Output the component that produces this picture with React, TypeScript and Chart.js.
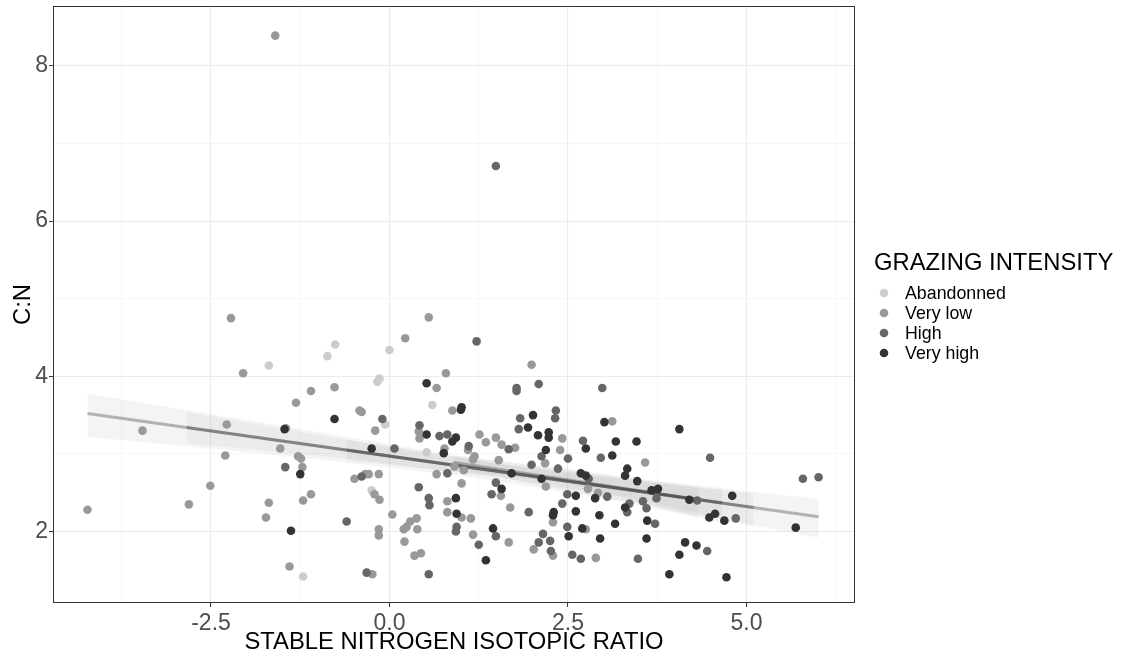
import React, { useEffect, useRef } from "react";
import { Chart, registerables } from "chart.js";

Chart.register(...registerables);

const FONT = "'Liberation Sans', Arial, Helvetica, sans-serif";

// ---------- data ----------
const groupNames = ["Abandonned", "Very low", "High", "Very high"];
const groupColors = ["#cccccc", "#999999", "#666666", "#333333"];
const legendTitle = "GRAZING INTENSITY";
const xAxisTitle = "STABLE NITROGEN ISOTOPIC RATIO";
const yAxisTitle = "C:N";

const abandonned: [number, number][] = [
  [-1.69, 4.14], [-1.21, 1.42], [-0.76, 4.41], [-0.87, 4.26], [0.0, 4.34], [-0.17, 3.93],
  [-0.14, 3.97], [0.6, 3.63], [-0.06, 3.38], [0.52, 3.02], [-0.25, 2.53],
];

const veryLow: [number, number][] = [
  [-1.6, 8.39], [-2.22, 4.75], [-2.05, 4.04], [-1.1, 3.81], [-1.31, 3.66], [-3.46, 3.3],
  [-2.28, 3.38], [-1.45, 3.33], [-1.53, 3.07], [-2.3, 2.98], [-1.28, 2.97], [-1.22, 2.83],
  [-1.1, 2.48], [-2.51, 2.59], [-1.69, 2.37], [-1.21, 2.4], [-2.81, 2.35], [-1.73, 2.18],
  [-4.23, 2.28], [-1.4, 1.55], [0.55, 4.76], [0.22, 4.49], [1.99, 4.15], [-0.77, 3.86],
  [0.79, 4.04], [0.66, 3.85], [0.88, 3.56], [-0.42, 3.56], [-0.39, 3.54], [-0.2, 3.3],
  [0.41, 3.29], [0.42, 3.2], [1.26, 3.25], [1.49, 3.21], [1.35, 3.15], [1.57, 3.12],
  [2.42, 3.2], [2.39, 3.05], [2.18, 2.88], [1.76, 3.08], [1.1, 3.05], [0.77, 3.07],
  [-1.24, 2.94], [1.53, 2.92], [1.19, 2.97], [1.17, 2.93], [0.91, 2.84], [1.04, 2.79],
  [0.66, 2.74], [-0.49, 2.68], [-0.34, 2.74], [-0.29, 2.74], [-0.15, 2.74], [1.56, 2.46],
  [2.19, 2.58], [1.01, 2.62], [-0.21, 2.48], [-0.14, 2.41], [0.81, 2.39], [0.81, 2.25],
  [1.01, 2.18], [1.14, 2.17], [1.69, 2.31], [2.29, 2.12], [0.04, 2.22], [0.38, 2.17],
  [0.29, 2.13], [0.24, 2.06], [0.2, 2.03], [0.39, 2.03], [-0.15, 2.03], [-0.15, 1.95],
  [1.17, 1.96], [1.67, 1.86], [2.02, 1.77], [2.29, 1.69], [0.21, 1.87], [0.35, 1.69],
  [0.44, 1.72], [-0.24, 1.45], [3.12, 3.42], [3.58, 2.89], [2.78, 2.55], [2.92, 2.5],
  [2.75, 2.03], [2.89, 1.66],
];

const high: [number, number][] = [
  [1.49, 6.71], [-1.46, 2.83], [1.22, 4.45], [1.78, 3.85], [1.78, 3.81], [2.09, 3.9],
  [-0.1, 3.45], [0.42, 3.37], [0.7, 3.23], [0.81, 3.25], [1.83, 3.46], [1.81, 3.32],
  [2.33, 3.56], [2.32, 3.46], [2.13, 2.97], [1.99, 2.86], [2.36, 2.81], [2.5, 2.94],
  [1.67, 3.06], [1.11, 3.1], [0.07, 3.07], [0.81, 2.75], [-0.39, 2.71], [1.49, 2.63],
  [1.43, 2.48], [2.49, 2.48], [2.42, 2.36], [0.41, 2.57], [0.55, 2.43], [0.56, 2.34],
  [1.95, 2.25], [2.49, 2.06], [-0.6, 2.13], [0.94, 2.06], [0.93, 2.0], [1.49, 1.94],
  [1.25, 1.83], [2.15, 1.97], [2.09, 1.86], [2.25, 1.88], [2.26, 1.75], [0.55, 1.45],
  [-0.32, 1.47], [2.98, 3.85], [2.71, 3.17], [2.96, 2.95], [4.49, 2.95], [2.79, 2.68],
  [3.05, 2.45], [3.74, 2.43], [3.55, 2.39], [3.36, 2.36], [3.33, 2.25], [3.6, 2.3],
  [4.31, 2.4], [5.79, 2.68], [6.01, 2.7], [3.72, 2.1], [4.85, 2.17], [4.45, 1.75],
  [2.56, 1.7], [2.68, 1.65], [3.48, 1.65],
];

const veryHigh: [number, number][] = [
  [-1.47, 3.32], [-1.25, 2.74], [-1.38, 2.01], [0.52, 3.91], [1.01, 3.6], [1.0, 3.57],
  [-0.77, 3.45], [0.52, 3.25], [0.93, 3.21], [0.88, 3.16], [2.01, 3.5], [1.94, 3.34],
  [2.08, 3.24], [2.23, 3.28], [2.23, 3.21], [2.19, 3.05], [0.76, 3.01], [-0.25, 3.07],
  [1.71, 2.75], [1.57, 2.55], [2.13, 2.68], [0.93, 2.43], [0.94, 2.23], [2.3, 2.25],
  [2.29, 2.21], [1.45, 2.04], [1.35, 1.63], [2.51, 1.94], [3.01, 3.41], [2.75, 3.07],
  [3.17, 3.16], [3.46, 3.16], [4.06, 3.32], [3.12, 2.98], [3.33, 2.81], [3.3, 2.72],
  [2.68, 2.75], [2.75, 2.72], [3.47, 2.65], [2.61, 2.46], [2.88, 2.43], [3.67, 2.53],
  [3.76, 2.55], [3.3, 2.31], [4.2, 2.41], [4.8, 2.46], [2.61, 2.26], [2.94, 2.21],
  [3.16, 2.1], [3.61, 2.14], [4.48, 2.18], [4.56, 2.23], [4.69, 2.14], [2.7, 2.04],
  [2.95, 1.91], [3.6, 1.91], [5.69, 2.05], [4.14, 1.86], [4.3, 1.82], [4.06, 1.7],
  [3.92, 1.45], [4.72, 1.41],
];

// fitted lines (start/end) and confidence bands
const fitAX = [-4.23, 6.01];
const fitAY = [3.52, 2.19];
const fitBX = [-2.84, 5.1];
const fitBY = [3.34, 2.31];
const fitCX = [-0.6, 4.66];
const fitCY = [3.05, 2.37];
const fitDX = [0.9, 4.33];
const fitDY = [2.89, 2.41];

const bandAX = [-4.23, -1.5, 1.0, 3.5, 6.01];
const bandAUpper = [3.78, 3.36, 2.97, 2.68, 2.42];
const bandALower = [3.22, 2.98, 2.72, 2.36, 1.92];
const bandBX = [-2.84, -0.5, 1.5, 3.5, 5.1];
const bandBUpper = [3.54, 3.17, 2.88, 2.64, 2.49];
const bandBLower = [3.14, 2.93, 2.7, 2.42, 2.06];
const bandCX = [-0.6, 1.5, 4.66];
const bandCUpper = [3.18, 2.87, 2.54];
const bandCLower = [2.92, 2.71, 2.12];
const bandDX = [0.9, 2.5, 4.33];
const bandDUpper = [2.98, 2.8, 2.56];
const bandDLower = [2.8, 2.62, 2.18];

const xMajorTicks = [-2.5, 0, 2.5, 5];
const xTickLabels = ["-2.5", "0.0", "2.5", "5.0"];
const xMinorTicks = [-3.75, -1.25, 1.25, 3.75, 6.25];
const yMajorTicks = [2, 4, 6, 8];
const yTickLabels = ["2", "4", "6", "8"];
const yMinorTicks = [3, 5, 7];
const xLimits = [-4.713, 6.52];
const yLimits = [1.079, 8.772];

// ---------- helpers ----------
const toPts = (xs: number[], ys: number[]) => xs.map((x, i) => ({ x, y: ys[i] }));
const isMajor = (list: number[], v: number) => list.some((m) => Math.abs(m - v) < 1e-9);

const BAND_FILL = "rgba(153,153,153,0.11)";
const FIT_LINE = "rgba(60,60,60,0.36)";
const TICK_FONT_SIZE = 23;

function bandDatasets(xs: number[], up: number[], lo: number[]) {
  return [
    {
      type: "line" as const,
      data: toPts(xs, up),
      borderColor: "rgba(0,0,0,0)",
      borderWidth: 0,
      pointRadius: 0,
      pointHoverRadius: 0,
      fill: false,
      order: 20,
    },
    {
      type: "line" as const,
      data: toPts(xs, lo),
      borderColor: "rgba(0,0,0,0)",
      borderWidth: 0,
      pointRadius: 0,
      pointHoverRadius: 0,
      fill: "-1",
      backgroundColor: BAND_FILL,
      order: 20,
    },
  ];
}

function fitDataset(xs: number[], ys: number[]) {
  return {
    type: "line" as const,
    data: toPts(xs, ys),
    borderColor: FIT_LINE,
    borderWidth: 3,
    pointRadius: 0,
    pointHoverRadius: 0,
    fill: false,
    order: 10,
  };
}

function pointDataset(label: string, pts: [number, number][], color: string, order: number) {
  return {
    type: "scatter" as const,
    label,
    data: pts.map(([x, y]) => ({ x, y })),
    backgroundColor: color,
    borderColor: color,
    pointRadius: 4.3,
    pointHoverRadius: 4.3,
    pointBorderWidth: 0,
    order,
  };
}

const zeroPad = (s: any) => {
  s.paddingTop = 0;
  s.paddingBottom = 0;
  s.paddingLeft = 0;
  s.paddingRight = 0;
};

const framePlugin = {
  id: "frameAndLegend",
  afterDatasetsDraw(chart: any) {
    const { ctx, chartArea: a } = chart;
    ctx.save();
    ctx.strokeStyle = "#333333";
    ctx.lineWidth = 1;
    ctx.strokeRect(a.left + 0.5, a.top + 0.5, a.right - a.left - 1, a.bottom - a.top - 1);
    ctx.restore();
  },
  afterDraw(chart: any) {
    const { ctx, chartArea: a } = chart;
    const left = a.right + 19;
    ctx.save();
    ctx.textAlign = "left";
    ctx.textBaseline = "alphabetic";
    ctx.fillStyle = "#000000";
    ctx.font = `23.8px ${FONT}`;
    ctx.fillText(legendTitle, left, 269.5);
    groupNames.forEach((name, i) => {
      const cy = 293 + i * 20;
      ctx.beginPath();
      ctx.arc(left + 10, cy, 4.3, 0, Math.PI * 2);
      ctx.fillStyle = groupColors[i];
      ctx.fill();
      ctx.fillStyle = "#000000";
      ctx.font = `17.8px ${FONT}`;
      ctx.fillText(name, left + 31, cy + 6.4);
    });
    ctx.restore();
  },
};

export default function App() {
  const canvasRef = useRef<HTMLCanvasElement | null>(null);

  useEffect(() => {
    if (!canvasRef.current) return;
    const datasets: any[] = [
      ...bandDatasets(bandAX, bandAUpper, bandALower),
      ...bandDatasets(bandBX, bandBUpper, bandBLower),
      ...bandDatasets(bandCX, bandCUpper, bandCLower),
      ...bandDatasets(bandDX, bandDUpper, bandDLower),
      fitDataset(fitAX, fitAY),
      fitDataset(fitBX, fitBY),
      fitDataset(fitCX, fitCY),
      fitDataset(fitDX, fitDY),
      pointDataset(groupNames[0], abandonned, groupColors[0], 3),
      pointDataset(groupNames[1], veryLow, groupColors[1], 2),
      pointDataset(groupNames[2], high, groupColors[2], 1),
      pointDataset(groupNames[3], veryHigh, groupColors[3], 0),
    ];

    const xAll = [...xMajorTicks, ...xMinorTicks].sort((a, b) => a - b);
    const yAll = [...yMajorTicks, ...yMinorTicks].sort((a, b) => a - b);

    const chart = new Chart(canvasRef.current, {
      type: "scatter",
      data: { datasets },
      options: {
        animation: false,
        responsive: false,
        devicePixelRatio: 1,
        layout: { padding: { left: 0, right: 276, top: 6, bottom: 0 } },
        plugins: {
          legend: { display: false },
          tooltip: { enabled: false },
          filler: { drawTime: "beforeDatasetsDraw" } as any,
        },
        scales: {
          x: {
            type: "linear",
            min: xLimits[0],
            max: xLimits[1],
            afterBuildTicks: (s: any) => {
              s.ticks = xAll.map((v) => ({ value: v }));
            },
            afterFit: (s: any) => {
              s.height = 54;
              zeroPad(s);
            },
            border: { display: false },
            grid: {
              color: (c: any) => (isMajor(xMajorTicks, c.tick?.value) ? "#ebebeb" : "#f4f4f4"),
              lineWidth: (c: any) => (isMajor(xMajorTicks, c.tick?.value) ? 1.1 : 0.8),
              tickColor: (c: any) => (isMajor(xMajorTicks, c.tick?.value) ? "#333333" : "rgba(0,0,0,0)"),
              tickLength: 4,
              tickWidth: 1,
            },
            ticks: {
              autoSkip: false,
              maxRotation: 0,
              padding: 3,
              color: "#4d4d4d",
              font: { family: FONT, size: TICK_FONT_SIZE },
              callback: (v: any) => {
                const i = xMajorTicks.findIndex((m) => Math.abs(m - v) < 1e-9);
                return i >= 0 ? xTickLabels[i] : "";
              },
            },
            title: {
              display: true,
              text: xAxisTitle,
              color: "#000000",
              font: { family: FONT, size: 23.8 },
              padding: { top: 0, bottom: 0 },
            },
          },
          y: {
            type: "linear",
            min: yLimits[0],
            max: yLimits[1],
            afterBuildTicks: (s: any) => {
              s.ticks = yAll.map((v) => ({ value: v }));
            },
            afterFit: (s: any) => {
              s.width = 53;
              zeroPad(s);
            },
            border: { display: false },
            grid: {
              color: (c: any) => (isMajor(yMajorTicks, c.tick?.value) ? "#ebebeb" : "#f4f4f4"),
              lineWidth: (c: any) => (isMajor(yMajorTicks, c.tick?.value) ? 1.1 : 0.8),
              tickColor: (c: any) => (isMajor(yMajorTicks, c.tick?.value) ? "#333333" : "rgba(0,0,0,0)"),
              tickLength: 4,
              tickWidth: 1,
            },
            ticks: {
              autoSkip: false,
              padding: 1,
              color: "#4d4d4d",
              font: { family: FONT, size: TICK_FONT_SIZE },
              callback: (v: any) => {
                const i = yMajorTicks.findIndex((m) => Math.abs(m - v) < 1e-9);
                return i >= 0 ? yTickLabels[i] : "";
              },
            },
            title: {
              display: true,
              text: yAxisTitle,
              color: "#000000",
              font: { family: FONT, size: 23.8 },
              padding: { top: 9, bottom: 0 },
            },
          },
        },
      },
      plugins: [framePlugin],
    });

    return () => chart.destroy();
  }, []);

  return (
    <div style={{ position: "fixed", left: 0, top: 0, width: 1131, height: 657, background: "#ffffff" }}>
      <canvas ref={canvasRef} width={1131} height={657} style={{ display: "block" }} />
    </div>
  );
}
